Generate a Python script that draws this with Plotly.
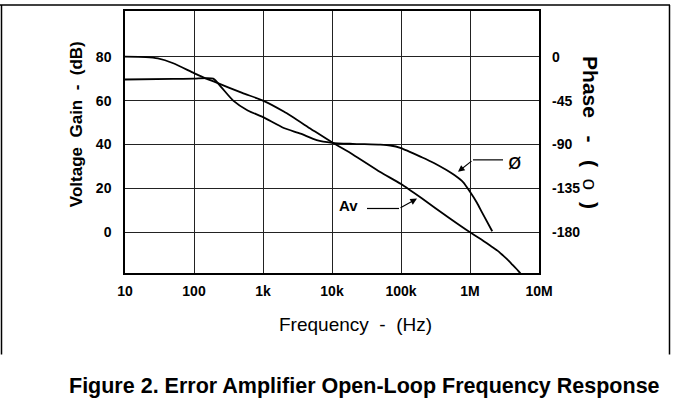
import plotly.graph_objects as go

# ---------------- data ----------------
gain_freq = [10, 20, 30, 50, 100, 150, 200, 500, 1000, 2000, 5000, 10000, 20000,
             50000, 100000, 200000, 500000, 1000000, 1500000, 2000000, 2500000,
             3000000, 3500000, 4000000, 5000000, 6000000]
gain_db = [80, 79.8, 79.2, 77, 72.5, 70, 68.5, 63.5, 60, 55, 47, 41, 35.5,
           27.5, 22, 15.5, 6.5, 0, -3.5, -6.2, -8.3, -10.5, -12.4, -14.3, -17.5, -20.5]

phase_freq = [10, 50, 100, 190, 250, 370, 600, 1000, 2000, 3500, 6000, 10000, 20000,
              50000, 70000, 100000, 200000, 300000, 450000, 600000, 800000, 1000000,
              1260000, 1500000, 2100000]
phase_deg = [-23.4, -22.8, -22.5, -22.5, -31.5, -45, -55.1, -61.9, -73.1, -78.8, -85.5,
             -88.2, -89.3, -90.2, -91.0, -93.6, -103.0, -108.9, -115.9, -121.5, -128.7,
             -138.4, -149.6, -159.8, -178.9]

x_tickvals = [10, 100, 1000, 10000, 100000, 1000000, 10000000]
x_ticktext = ["10", "100", "1k", "10k", "100k", "1M", "10M"]
gain_ticks = [0, 20, 40, 60, 80]
phase_ticks = [-180, -135, -90, -45, 0]
phase_ticktext = ["-180", "-135", "-90", "-45", "0"]

# ---------------- layout geometry ----------------
W, H = 673, 410
L, R, T, B = 125, 539, 9, 273          # plot area in pixels
g_lo, g_hi = -18.5, 100.8               # gain axis range
p_lo, p_hi = 2.25 * g_lo - 180, 2.25 * g_hi - 180   # phase axis mapped to gain


def px(xp):
    return (xp - L) / (R - L)


def py(yp):
    return (B - yp) / (B - T)


FONT = "Liberation Sans, Arial, sans-serif"

fig = go.Figure()
fig.add_trace(go.Scatter(x=gain_freq, y=gain_db, mode="lines", name="Av",
                         line=dict(color="black", width=1.8, shape="spline", smoothing=0.6),
                         yaxis="y", showlegend=False))
fig.add_trace(go.Scatter(x=phase_freq, y=phase_deg, mode="lines", name="phase",
                         line=dict(color="black", width=1.8, shape="spline", smoothing=0.6),
                         yaxis="y2", showlegend=False))

fig.update_layout(
    width=W, height=H,
    margin=dict(l=L, r=W - R, t=T, b=H - B, pad=0),
    paper_bgcolor="white", plot_bgcolor="white",
    font=dict(family=FONT, color="black"),
    xaxis=dict(type="log", range=[1, 7], tickvals=x_tickvals, ticktext=x_ticktext,
               showgrid=True, gridcolor="#222", gridwidth=1.2,
               showline=True, linecolor="black", linewidth=1.5, mirror=True,
               ticks="", ticklabelstandoff=4,
               tickfont=dict(size=14, family=FONT, weight="bold"), zeroline=False),
    yaxis=dict(range=[g_lo, g_hi], tickvals=gain_ticks,
               showgrid=True, gridcolor="#222", gridwidth=1.2,
               showline=True, linecolor="black", linewidth=1.5, mirror=True,
               ticks="", ticklabelstandoff=9, zeroline=False,
               tickfont=dict(size=14, family=FONT, weight="bold")),
    yaxis2=dict(range=[p_lo, p_hi], tickvals=phase_ticks, ticktext=phase_ticktext,
                overlaying="y", side="right",
                showgrid=False, zeroline=False, ticks="", ticklabelstandoff=12,
                showline=False,
                tickfont=dict(size=14, family=FONT, weight="bold")),
)

annotations = []
# axis titles
annotations.append(dict(text="Frequency  -  (Hz)", xref="paper", yref="paper",
                        x=px(355), y=py(325), showarrow=False,
                        xanchor="center", yanchor="middle",
                        font=dict(size=19, family=FONT)))
annotations.append(dict(text="<b>Voltage  Gain  -  (dB)</b>", xref="paper", yref="paper",
                        x=px(76), y=py(123), showarrow=False, textangle=-90,
                        xanchor="center", yanchor="middle",
                        font=dict(size=17, family=FONT)))
annotations.append(dict(text="<b>Phase   -   (  </b>o<b>  )</b>", xref="paper", yref="paper",
                        x=px(591), y=py(131), showarrow=False, textangle=90,
                        xanchor="center", yanchor="middle",
                        font=dict(size=21, family=FONT)))
# figure caption
annotations.append(dict(text="<b>Figure 2. Error Amplifier Open-Loop Frequency Response</b>",
                        xref="paper", yref="paper", x=px(364), y=py(387), showarrow=False,
                        xanchor="center", yanchor="middle",
                        font=dict(size=21.5, family=FONT)))


def lf(xp):
    return 1 + (xp - L) / 69.0


def db(yp):
    return (232 - yp) / 2.2125


# Av label and leader
annotations.append(dict(text="<b>Av</b>", x=lf(348), y=db(205), xref="x", yref="y",
                        xanchor="center", yanchor="middle",
                        showarrow=False, font=dict(size=15, family=FONT)))
annotations.append(dict(text="", x=lf(417), y=db(198), ax=lf(399), ay=db(208),
                        xref="x", yref="y", axref="x", ayref="y",
                        showarrow=True, arrowhead=2, arrowsize=1.2, arrowwidth=1.1,
                        arrowcolor="black"))
# phase label and leader
annotations.append(dict(text="ø", x=lf(514), y=db(161), xref="x", yref="y",
                        xanchor="center", yanchor="middle",
                        showarrow=False, font=dict(size=22, family="DejaVu Sans")))
annotations.append(dict(text="", x=lf(458), y=db(171), ax=lf(473), ay=db(159),
                        xref="x", yref="y", axref="x", ayref="y",
                        showarrow=True, arrowhead=2, arrowsize=1.2, arrowwidth=1.1,
                        arrowcolor="black"))
fig.update_layout(annotations=annotations)

shapes = [
    # leader horizontal segments
    dict(type="line", xref="paper", yref="paper", x0=px(367), x1=px(399), y0=py(208), y1=py(208),
         line=dict(color="black", width=1.2)),
    dict(type="line", xref="paper", yref="paper", x0=px(473), x1=px(503), y0=py(159), y1=py(159),
         line=dict(color="black", width=1.2)),
    # outer frame
    dict(type="line", xref="paper", yref="paper", x0=px(0), x1=px(670), y0=py(3), y1=py(3),
         line=dict(color="black", width=1.5)),
    dict(type="line", xref="paper", yref="paper", x0=px(1.5), x1=px(1.5), y0=py(3), y1=py(355),
         line=dict(color="black", width=1.5)),
    dict(type="line", xref="paper", yref="paper", x0=px(669.5), x1=px(669.5), y0=py(3), y1=py(355),
         line=dict(color="black", width=1.5)),
]
fig.update_layout(shapes=shapes)

fig.write_html("out.html", config={"displayModeBar": False},
               post_script="document.body.style.margin='0';document.body.style.overflow='hidden';")
